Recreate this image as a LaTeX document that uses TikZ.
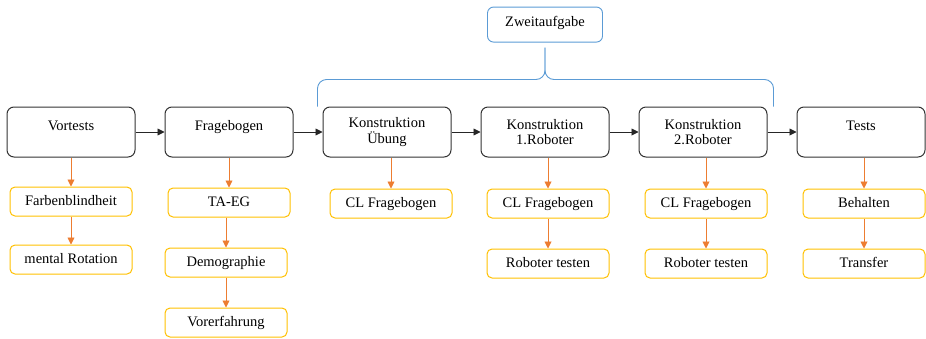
\documentclass[tikz,border=0pt]{standalone}
\usepackage{fontspec}
\setmainfont{Liberation Serif}
\newfontfamily\diagfont{Liberation Serif}
\usetikzlibrary{positioning, arrows.meta}

\definecolor{arrorange}{RGB}{237,125,49}
\definecolor{subyellow}{RGB}{255,192,0}
\definecolor{taskblue}{RGB}{91,155,213}

\tikzset{
    stage/.style={draw=black!80, line width=1pt, rounded corners=7pt, minimum width=128pt,
        minimum height=50pt, align=center, inner sep=2pt, font=\diagfont\fontsize{14.5}{15.5}\selectfont},
    oneline/.style={text height=10pt, text depth=14pt},
    sub/.style={draw=subyellow, line width=1pt, rounded corners=5pt, minimum width=122pt,
        minimum height=29pt, text height=10pt, text depth=3pt, inner sep=2pt,
        font=\diagfont\fontsize{14.5}{15.5}\selectfont},
    task/.style={draw=taskblue, line width=0.9pt, rounded corners=6pt, minimum width=115pt,
        minimum height=35pt, text height=10pt, text depth=6pt, inner sep=2pt,
        font=\diagfont\fontsize{14.5}{15.5}\selectfont},
    flow/.style={-{Triangle[length=7pt,width=7pt]}, line width=0.9pt, black!85},
    subflow/.style={-{Triangle[length=7pt,width=7pt]}, line width=0.9pt, arrorange},
    bracket/.style={draw=taskblue, line width=0.9pt, rounded corners=9pt}
}

\begin{document}
\begin{tikzpicture}[x=1pt, y=-1pt]
        \useasboundingbox (0,0) rectangle (926,338);

        % Draw the stages
        \node[stage, oneline]                  (vor)   at (71,132) {Vortests};
        \node[stage, oneline, right=29pt of vor]   (frage) {Fragebogen};
        \node[stage, right=29pt of frage]          (ueb)   {Konstruktion\\Übung};
        \node[stage, right=29pt of ueb]            (rob1)  {Konstruktion\\1.Roboter};
        \node[stage, right=29pt of rob1]           (rob2)  {Konstruktion\\2.Roboter};
        \node[stage, oneline, right=29pt of rob2]  (tests) {Tests};

        % Secondary task over the construction phases
        \node[task, above=64pt of rob1] (zweit) {Zweitaufgabe};
        \coordinate (bl) at ([xshift=-5pt]ueb.north west);
        \coordinate (br) at ([xshift=6pt]rob2.north east);
        \coordinate (bt) at ([yshift=-5pt]zweit.south);
        \coordinate (bm) at ([yshift=-32pt]bt);
        \draw[bracket] (bl) |- (bm) -- (bt);
        \draw[bracket] (br) |- (bm) -- (bt);

        % Draw the sub steps
        \node[sub, below=29pt of vor]               (farb)   {Farbenblindheit};
        \node[sub, below=28pt of farb]              (rot)    {mental Rotation};
        \node[sub, below=30pt of frage]             (taeg)   {TA-EG};
        \node[sub, below=30pt of taeg, xshift=-3pt] (demo)   {Demographie};
        \node[sub, below=30pt of demo]              (vorerf) {Vorerfahrung};
        \node[sub, below=31pt of ueb, xshift=4pt]   (clueb)  {CL Fragebogen};
        \node[sub, below=31pt of rob1, xshift=3pt]  (cl1)    {CL Fragebogen};
        \node[sub, below=30pt of cl1]               (test1)  {Roboter testen};
        \node[sub, below=31pt of rob2, xshift=3pt]  (cl2)    {CL Fragebogen};
        \node[sub, below=30pt of cl2]               (test2)  {Roboter testen};
        \node[sub, below=31pt of tests, xshift=3pt] (beh)    {Behalten};
        \node[sub, below=30pt of beh]               (trans)  {Transfer};

        % Connect the stages
        \draw[flow] (vor) -- (frage);
        \draw[flow] (frage) -- (ueb);
        \draw[flow] (ueb) -- (rob1);
        \draw[flow] (rob1) -- (rob2);
        \draw[flow] (rob2) -- (tests);

        % Connect the sub steps
        \draw[subflow] (farb.north |- vor.south) -- (farb);
        \draw[subflow] (farb) -- (rot);
        \draw[subflow] (taeg.north |- frage.south) -- (taeg);
        \draw[subflow] (demo.north |- taeg.south) -- (demo);
        \draw[subflow] (vorerf.north |- demo.south) -- (vorerf);
        \draw[subflow] (clueb.north |- ueb.south) -- (clueb);
        \draw[subflow] (cl1.north |- rob1.south) -- (cl1);
        \draw[subflow] (cl1) -- (test1);
        \draw[subflow] (cl2.north |- rob2.south) -- (cl2);
        \draw[subflow] (cl2) -- (test2);
        \draw[subflow] (beh.north |- tests.south) -- (beh);
        \draw[subflow] (beh) -- (trans);
    \end{tikzpicture}
\end{document}
